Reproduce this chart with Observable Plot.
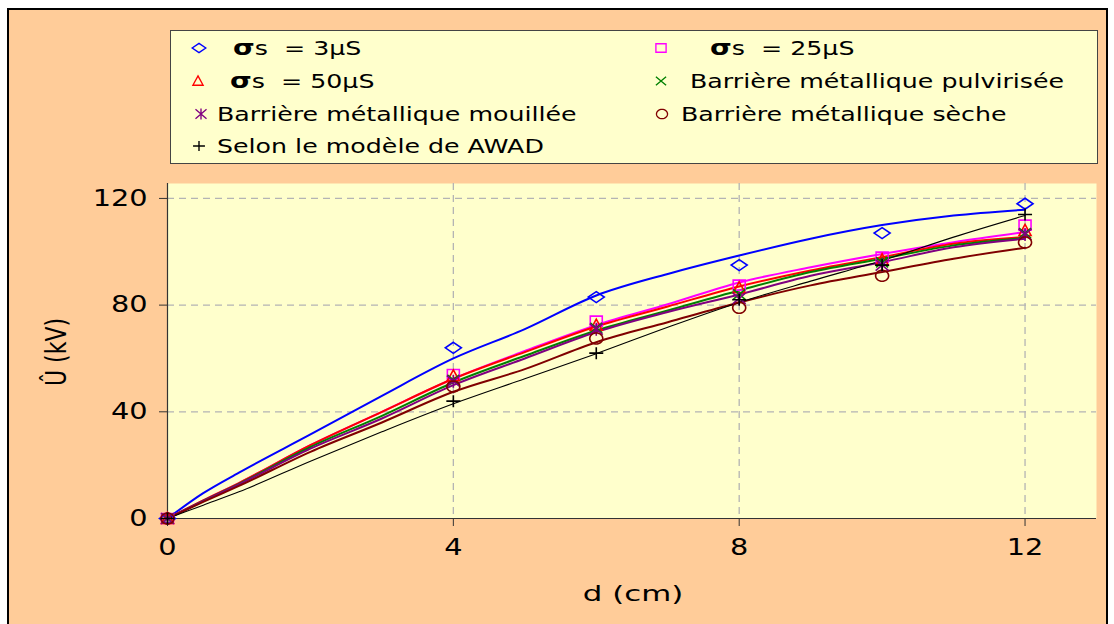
<!DOCTYPE html>
<html><head><meta charset="utf-8">
<script src="https://cdn.jsdelivr.net/npm/d3@7"></script>
<script src="https://cdn.jsdelivr.net/npm/@observablehq/plot@0.6"></script>
<style>
html,body{margin:0;padding:0;}
body{width:1114px;height:624px;overflow:hidden;position:relative;background:#fff;font-family:"DejaVu Sans",Verdana,sans-serif;color:#000;}
#frame{position:absolute;left:7px;top:8px;width:1101px;height:640px;background:#FFCC99;border:2px solid #000;box-sizing:border-box;}
#chart{position:absolute;left:0;top:0;}
#legend{position:absolute;left:170px;top:30px;width:928px;height:134px;background:#FFFFCC;border:1px solid #444;box-sizing:border-box;}
.mk{position:absolute;overflow:visible;}
.txt{position:absolute;display:inline-block;transform-origin:0 50%;transform:scaleX(1.33);font-size:19px;line-height:22px;white-space:nowrap;}
.sig{font-weight:bold;font-size:21px;}
.ax{position:absolute;font-size:22px;white-space:nowrap;}
</style>
</head><body>
<div id="frame"></div>
<div id="chart"></div>
<div id="legend"></div>
<div class="ax" id="xlab" style="left:633px;top:593px;transform:translate(-50%,-50%) scaleX(1.4);">d (cm)</div>
<div class="ax" id="ylab" style="left:56px;top:352px;transform:translate(-50%,-50%) rotate(-90deg) scaleY(1.3);">Û (kV)</div>
<script>
// ---------- data ----------
const seriesNames = ["s3", "s25", "s50", "pulv", "mouil", "seche", "awad"];
const seriesColors = ["#0000FF", "#FF00FF", "#FF0000", "#008000", "#800080", "#800000", "#000000"];
const seriesSymbols = ["diamond", "square", "triangle", "times", "asterisk", "circle", "plus"];

const xTicks = [0, 4, 8, 12];
const yTicks = [0, 40, 80, 120];

// simulated curves (d in cm, U in kV)
const dCurve = [0, 0.5, 1, 2, 3, 4, 5, 6, 7, 8, 9, 10, 11, 12];
const curve3 =   [0, 9.5, 17.2, 31.5, 46.0, 60.0, 71.0, 83.6, 91.7, 98.6, 104.9, 110.0, 113.6, 115.8];
const curve25 =  [0, 6.8, 13.3, 27.5, 40.0, 52.4, 62.8, 72.5, 80.3, 88.5, 94.2, 99.2, 103.6, 107.4];
const curve50 =  [0, 6.8, 13.3, 27.5, 40.0, 52.4, 62.4, 72.0, 79.5, 87.0, 93.0, 98.0, 103.0, 105.5];
const curvePulv =[0, 6.6, 13.0, 26.8, 38.5, 51.0, 61.0, 70.5, 78.0, 85.5, 92.4, 97.4, 102.4, 105.2];
const curveMouil=[0, 6.5, 12.8, 26.2, 37.5, 50.0, 60.0, 69.9, 77.4, 84.0, 91.0, 96.1, 101.7, 104.9];
const curveSeche=[0, 6.2, 12.2, 25.0, 36.0, 47.5, 56.0, 66.1, 73.6, 81.0, 87.4, 92.4, 97.4, 101.5];
const curveAwad = [0, 5.0, 10.0, 21.5, 32.5, 43.0, 52.4, 61.8, 71.7, 81.0, 89.0, 96.7, 105.5, 113.6];

// measured points
const dMeas = [0, 4, 6, 8, 10, 12];
const meas3 =    [0, 64.0, 83.0, 95.0, 107.0, 118.0];
const meas25 =   [0, 54.0, 74.0, 87.5, 98.0, 110.0];
const meas50 =   [0, 53.5, 72.5, 86.5, 97.0, 108.0];
const measPulv = [0, 52.0, 71.5, 84.0, 96.0, 107.0];
const measMouil= [0, 51.5, 71.0, 82.5, 95.0, 106.5];
const measSeche= [0, 49.5, 67.5, 79.0, 91.0, 103.5];
const measAwad = [0, 44.0, 62.0, 82.0, 95.0, 114.0];

const curves = [curve3, curve25, curve50, curvePulv, curveMouil, curveSeche, curveAwad];
const meas = [meas3, meas25, meas50, measPulv, measMouil, measSeche, measAwad];

// ---------- marker shapes (slightly wider than tall, like the original) ----------
function poly(ctx, pts, closed) {
  ctx.moveTo(pts[0][0], pts[0][1]);
  for (let k = 1; k < pts.length; k++) ctx.lineTo(pts[k][0], pts[k][1]);
  if (closed) ctx.closePath();
}
const shapeDraw = {
  diamond: ctx => poly(ctx, [[0, -5.5], [8, 0], [0, 5.5], [-8, 0]], true),
  square: ctx => poly(ctx, [[-6, -5], [6, -5], [6, 5], [-6, 5]], true),
  triangle: ctx => poly(ctx, [[0, -6], [6, 5], [-6, 5]], true),
  times: ctx => { poly(ctx, [[-6, -5], [6, 5]]); poly(ctx, [[6, -5], [-6, 5]]); },
  asterisk: ctx => { poly(ctx, [[-6.5, -5.5], [6.5, 5.5]]); poly(ctx, [[6.5, -5.5], [-6.5, 5.5]]); poly(ctx, [[0, -6.5], [0, 6.5]]); },
  circle: ctx => { const p = []; for (let k = 0; k <= 32; k++) { const a = k / 32 * 2 * Math.PI; p.push([6.5 * Math.cos(a), 5.5 * Math.sin(a)]); } poly(ctx, p, true); },
  plus: ctx => { poly(ctx, [[-7, 0], [7, 0]]); poly(ctx, [[0, -6], [0, 6]]); }
};
const symbolObjects = seriesSymbols.map(s => ({draw: (ctx) => shapeDraw[s](ctx)}));

// ---------- tables ----------
const curveRows = [];
curves.forEach((c, i) => c.forEach((u, j) => curveRows.push({series: seriesNames[i], d: dCurve[j], u})));
const measRows = [];
meas.forEach((m, i) => m.forEach((u, j) => measRows.push({series: seriesNames[i], d: dMeas[j], u})));

const chart = Plot.plot({
  width: 1114, height: 624,
  marginLeft: 167, marginRight: 18, marginTop: 183, marginBottom: 106,
  style: {background: "transparent", fontFamily: "DejaVu Sans, Verdana, sans-serif", fontSize: "23px", color: "#000", overflow: "visible"},
  x: {domain: [0, 13]},
  y: {domain: [0, 125.6]},
  color: {domain: seriesNames, range: seriesColors},
  symbol: {domain: seriesNames, range: symbolObjects},
  marks: [
    Plot.frame({fill: "#FFFFCC", stroke: "none"}),
    Plot.gridX(xTicks.filter(d => d > 0), {stroke: "#b4b4b4", strokeOpacity: 1, strokeWidth: 1.3, strokeDasharray: "7,5"}),
    Plot.gridY(yTicks.filter(d => d > 0), {stroke: "#b4b4b4", strokeOpacity: 1, strokeWidth: 1.3, strokeDasharray: "7,5"}),
    Plot.axisX({ticks: xTicks, tickSize: 8, tickPadding: 12, label: null, stroke: "#333"}),
    Plot.axisY({ticks: yTicks, tickSize: 8, tickPadding: 12, label: null, stroke: "#333"}),
    Plot.ruleX([0], {stroke: "#333", strokeWidth: 1.2}),
    Plot.ruleY([0], {stroke: "#333", strokeWidth: 1.2}),
    Plot.line(curveRows.filter(r => r.series !== "awad"), {x: "d", y: "u", z: "series", stroke: "series", strokeWidth: 2, curve: "monotone-x"}),
    Plot.line(curveRows.filter(r => r.series === "awad"), {x: "d", y: "u", stroke: "#000", strokeWidth: 1.1, curve: "monotone-x"}),
    Plot.dot(measRows, {x: "d", y: "u", symbol: "series", stroke: "series", fill: "none", r: 6, strokeWidth: 1.6})
  ]
});
document.getElementById("chart").appendChild(chart);

// stretch tick labels horizontally like the original picture
function stretchLabels(sel, s, anchor) {
  chart.querySelectorAll(sel).forEach(t => {
    const g = document.createElementNS("http://www.w3.org/2000/svg", "g");
    t.parentNode.insertBefore(g, t);
    g.appendChild(t);
    const b = g.getBBox();
    const cx = anchor === "end" ? b.x + b.width : b.x + b.width / 2;
    g.setAttribute("transform", `translate(${cx},0) scale(${s},1) translate(${-cx},0)`);
  });
}
stretchLabels('g[aria-label="x-axis tick label"] text', 1.25, "middle");
stretchLabels('g[aria-label="y-axis tick label"] text', 1.25, "end");

// ---------- legend ----------
const legendLabels = [
  {sig: true, rest: "= 3µS"},
  {sig: true, rest: "= 25µS"},
  {sig: true, rest: "= 50µS"},
  {sig: false, rest: "Barrière métallique pulvirisée"},
  {sig: false, rest: "Barrière métallique mouillée"},
  {sig: false, rest: "Barrière métallique sèche"},
  {sig: false, rest: "Selon le modèle de AWAD"}
];
// positions relative to legend box: marker x, text x, row y
const legendPos = [
  {mx: 28, tx: 62, y: 17},
  {mx: 490, tx: 539, y: 17},
  {mx: 27, tx: 59, y: 50},
  {mx: 490, tx: 519, y: 50},
  {mx: 30, tx: 46, y: 83},
  {mx: 491, tx: 510, y: 83},
  {mx: 28, tx: 46, y: 115}
];
const leg = document.getElementById("legend");
seriesNames.forEach((s, i) => {
  const p = legendPos[i];
  const svg = d3.select(leg).append("svg").attr("class", "mk")
    .attr("width", 20).attr("height", 20)
    .style("left", (p.mx - 10) + "px").style("top", (p.y - 10) + "px");
  const path = d3.path();
  shapeDraw[seriesSymbols[i]](path);
  svg.append("path").attr("transform", "translate(10,10) scale(0.85)")
    .attr("d", path.toString())
    .attr("fill", "none").attr("stroke", seriesColors[i]).attr("stroke-width", 1.6);
  const lab = legendLabels[i];
  const span = document.createElement("span");
  span.className = "txt";
  span.style.left = p.tx + "px";
  span.style.top = (p.y - 11) + "px";
  if (lab.sig) {
    span.innerHTML = '<span class="sig">σ</span>s&nbsp;&nbsp;' + lab.rest;
  } else {
    span.textContent = lab.rest;
  }
  leg.appendChild(span);
});
</script>
</body></html>
